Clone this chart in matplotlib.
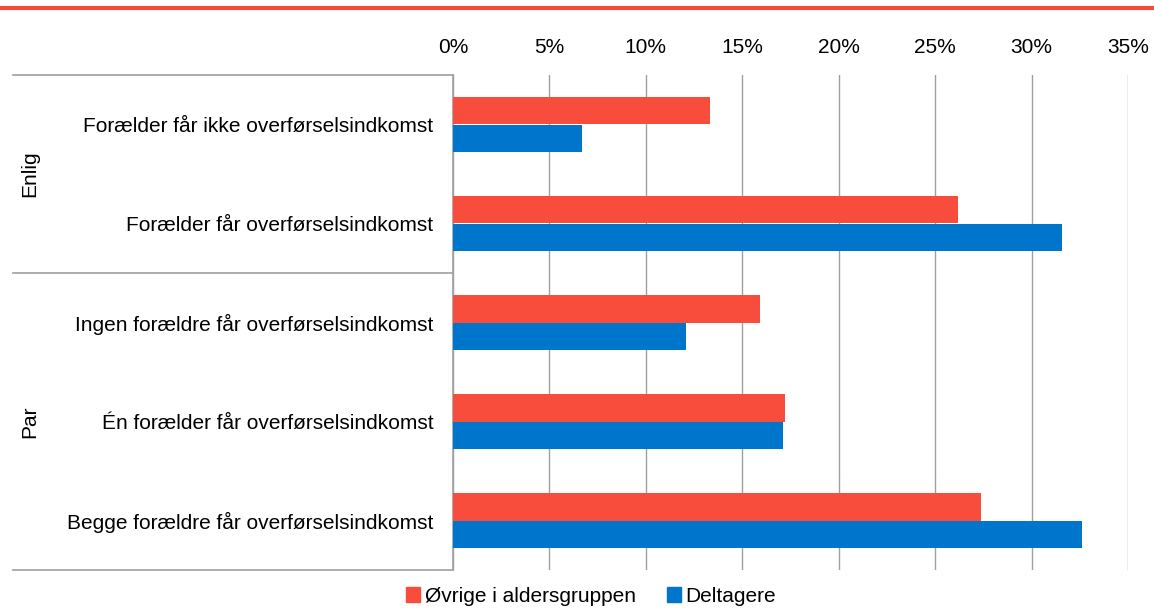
import matplotlib
matplotlib.use('Agg')
import matplotlib.pyplot as plt
from matplotlib.lines import Line2D
from matplotlib.patches import Patch
import matplotlib.transforms as mtransforms
import numpy as np

categories = ['Forælder får ikke overførselsindkomst',
              'Forælder får overførselsindkomst',
              'Ingen forældre får overførselsindkomst',
              'Én forælder får overførselsindkomst',
              'Begge forældre får overførselsindkomst']
groups = ['Enlig', 'Par']
group_sizes = [2, 3]
ovrige = [13.3, 26.2, 15.9, 17.2, 27.4]
deltagere = [6.7, 31.6, 12.1, 17.1, 32.6]
xticks = [0, 5, 10, 15, 20, 25, 30, 35]

red = '#F84C3C'
blue = '#0075CC'
grey = '#A0A0A0'

plt.rcParams['font.family'] = ['Liberation Sans', 'DejaVu Sans']
plt.rcParams['font.size'] = 15

W, H = 1154, 609
fig = plt.figure(figsize=(W / 100, H / 100), dpi=100)
left, right, top, bottom = 453, 1128, 75, 570
ax = fig.add_axes([left / W, 1 - bottom / H, (right - left) / W, (bottom - top) / H])

y = np.arange(len(categories))
h = 0.28
ax.barh(y - h / 2, ovrige, height=h, color=red, label='Øvrige i aldersgruppen', zorder=3)
ax.barh(y + h / 2, deltagere, height=h, color=blue, label='Deltagere', zorder=3)

ax.set_xlim(0, 35)
ax.set_ylim(len(categories) - 0.5, -0.5)
ax.xaxis.tick_top()
ax.set_xticks(xticks)
ax.set_xticklabels([f'{t}%' for t in xticks])
ax.tick_params(axis='x', length=0, pad=13)
ax.set_yticks(y)
ax.set_yticklabels(categories)
ax.tick_params(axis='y', length=0, pad=14)
ax.grid(axis='x', color=grey, lw=1, zorder=0)
for s in ['top', 'right', 'bottom']:
    ax.spines[s].set_visible(False)
ax.spines['left'].set_color(grey)
ax.spines['left'].set_linewidth(1.2)

# group separators and labels on the left
trans = mtransforms.blended_transform_factory(fig.transFigure, ax.transData)
x0 = 13 / W
bounds = np.concatenate([[0], np.cumsum(group_sizes)]) - 0.5
for b in bounds:
    ax.add_line(Line2D([x0, left / W], [b, b], transform=trans, color=grey,
                       lw=1.2, clip_on=False))
for g, lo, hi in zip(groups, bounds[:-1], bounds[1:]):
    ax.text(30 / W, (lo + hi) / 2, g, transform=trans, rotation=90,
            ha='center', va='center')

# red rule at the top
fig.add_artist(Line2D([0, 1], [1 - 8 / H, 1 - 8 / H], transform=fig.transFigure,
                      color='#F24A3A', lw=3))

handles = [Patch(color=red, label='Øvrige i aldersgruppen'),
           Patch(color=blue, label='Deltagere')]
fig.legend(handles=handles, loc='center', bbox_to_anchor=(591 / W, 1 - 596 / H),
           ncol=2, frameon=False, handlelength=0.7, handleheight=0.7,
           handletextpad=0.2, columnspacing=1.5, borderaxespad=0)

fig.savefig('out.png', dpi=100)
